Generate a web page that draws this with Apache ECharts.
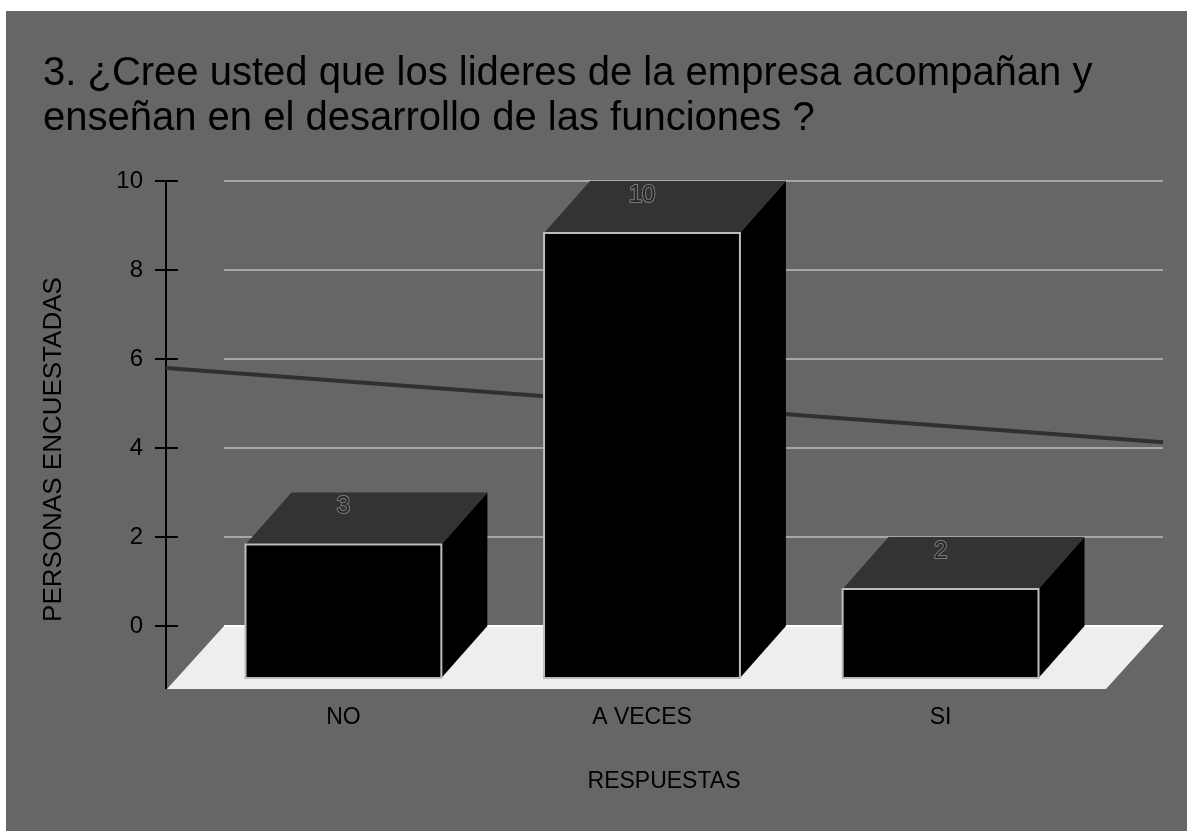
<!DOCTYPE html>
<html lang="es">
<head>
<meta charset="utf-8">
<title>Líderes de la empresa</title>
<script src="https://cdn.jsdelivr.net/npm/echarts@6.0.0/dist/echarts.min.js"></script>
<style>
  html, body { margin: 0; padding: 0; background: #ffffff; }
  #chart { position: absolute; left: 6px; top: 11px; width: 1181px; height: 820px; }
</style>
</head>
<body>
<div id="chart"></div>
<script>
// Survey answers
const CATEGORIES = ['NO', 'A VECES', 'SI'];
const VALUES = [3, 10, 2];
const Y_TICKS = [0, 2, 4, 6, 8, 10];

const TITLE = '3. ¿Cree usted que los lideres de la empresa acompañan y\nenseñan en el desarrollo de las funciones ?';
const X_NAME = 'RESPUESTAS';
const Y_NAME = 'PERSONAS ENCUESTADAS';

// Pseudo-3D geometry (pixels)
const DEPTH_X = 46;      // back face is shifted right of the front face
const DEPTH_Y = 52;      // and up
const FLOOR_DX = -57;    // floor front edge relative to the back wall
const FLOOR_DY = 63;
const BAR_RATIO = 0.656; // bar width as a share of category spacing
const AXIS_OFFSET = 58;  // value axis sits left of the back wall
const X_MIN = -0.4, X_MAX = 2.745;

const FONT = '"Liberation Sans", Arial, Helvetica, sans-serif';

// least-squares linear trend over the categories
function linearFit(ys) {
  const n = ys.length;
  const mx = (n - 1) / 2;
  const my = ys.reduce((a, b) => a + b, 0) / n;
  let sxy = 0, sxx = 0;
  ys.forEach((y, i) => { sxy += (i - mx) * (y - my); sxx += (i - mx) * (i - mx); });
  const slope = sxy / sxx;
  return { slope, intercept: my - slope * mx };
}

const chart = echarts.init(document.getElementById('chart'), null, { renderer: 'canvas' });

const fit = linearFit(VALUES);
const trendAt = i => fit.intercept + fit.slope * i;

const valueAxisBase = {
  type: 'value',
  min: Y_TICKS[0],
  max: Y_TICKS[Y_TICKS.length - 1],
  interval: Y_TICKS[1] - Y_TICKS[0],
  offset: AXIS_OFFSET,
  position: 'left'
};

const option = {
  backgroundColor: '#666666',
  animation: false,
  title: {
    text: TITLE,
    left: 37,
    top: 40,
    padding: 0,
    textStyle: { fontFamily: FONT, fontSize: 40, fontWeight: 'normal', color: '#000000', lineHeight: 45 }
  },
  grid: { left: 218, right: 24, top: 170, bottom: 205, containLabel: false },
  xAxis: {
    type: 'value',
    min: X_MIN,
    max: X_MAX,
    axisLine: { show: false, onZero: false },
    axisTick: { show: false },
    splitLine: { show: false },
    axisLabel: {
      customValues: CATEGORIES.map((c, i) => i),
      formatter: v => CATEGORIES[Math.round(v)] || '',
      margin: 80,
      fontFamily: FONT,
      fontSize: 23,
      color: '#000000'
    },
    name: X_NAME,
    nameLocation: 'middle',
    nameGap: 144,
    nameTextStyle: { fontFamily: FONT, fontSize: 23, color: '#000000', padding: [0, 59, 0, 0] }
  },
  yAxis: [
    Object.assign({}, valueAxisBase, {
      axisLine: { show: true, onZero: false, lineStyle: { color: '#000000', width: 2 } },
      axisTick: { show: true, length: 11, lineStyle: { color: '#000000', width: 2 } },
      axisLabel: { margin: 23, fontFamily: FONT, fontSize: 24, color: '#000000' },
      splitLine: { show: true, lineStyle: { color: '#a6a6a6', width: 2 } },
      name: Y_NAME,
      nameLocation: 'middle',
      nameRotate: 90,
      nameGap: 99,
      nameTextStyle: { fontFamily: FONT, fontSize: 26, color: '#000000', padding: [0, 92, 0, 0] }
    }),
    Object.assign({}, valueAxisBase, {
      axisLine: { show: false, onZero: false },
      axisTick: { show: true, inside: true, length: 12, lineStyle: { color: '#000000', width: 2 } },
      axisLabel: { show: false },
      splitLine: { show: false }
    })
  ],
  series: [
    {
      // floor plane and the axis running down to its front edge
      type: 'custom',
      z: 1,
      clip: false,
      silent: true,
      data: [[0, 0]],
      renderItem: (params, api) => {
        const cs = params.coordSys;
        const by = api.coord([0, 0])[1];
        const x0 = cs.x, x1 = cs.x + cs.width;
        return {
          type: 'group',
          children: [
            {
              type: 'polygon',
              shape: { points: [[x0, by], [x1, by], [x1 + FLOOR_DX, by + FLOOR_DY], [x0 + FLOOR_DX, by + FLOOR_DY]] },
              style: { fill: '#eeeeee' }
            },
            {
              type: 'line',
              shape: { x1: x0, y1: by, x2: x1, y2: by },
              style: { stroke: '#ffffff', lineWidth: 2 }
            },
            {
              type: 'line',
              shape: { x1: x0 - AXIS_OFFSET, y1: by, x2: x0 - AXIS_OFFSET, y2: by + FLOOR_DY },
              style: { stroke: '#000000', lineWidth: 2 }
            }
          ]
        };
      }
    },
    {
      // linear trend line, running from the value axis to the right edge of the wall
      type: 'custom',
      z: 2,
      clip: false,
      silent: true,
      data: [[0, trendAt(0)], [CATEGORIES.length - 1, trendAt(CATEGORIES.length - 1)]],
      renderItem: (params, api) => {
        if (params.dataIndex !== 0) return null;
        const cs = params.coordSys;
        const last = CATEGORIES.length - 1;
        const a = api.coord([0, trendAt(0)]);
        const b = api.coord([last, trendAt(last)]);
        const k = (b[1] - a[1]) / (b[0] - a[0]);
        const xs = cs.x - AXIS_OFFSET, xe = cs.x + cs.width;
        return {
          type: 'line',
          shape: { x1: xs, y1: a[1] + k * (xs - a[0]), x2: xe, y2: a[1] + k * (xe - a[0]) },
          style: { stroke: '#303030', lineWidth: 4 }
        };
      }
    },
    {
      // 3D bars
      type: 'custom',
      z: 3,
      clip: false,
      silent: true,
      data: VALUES.map((v, i) => [i, v]),
      renderItem: (params, api) => {
        const i = api.value(0), v = api.value(1);
        const top = api.coord([i, v]);
        const base = api.coord([i, 0]);
        const w = api.size([BAR_RATIO, 0])[0];
        const fl = top[0] - w / 2, fr = top[0] + w / 2;
        const ft = top[1] + DEPTH_Y, fb = base[1] + DEPTH_Y;
        return {
          type: 'group',
          children: [
            {
              type: 'polygon',
              shape: { points: [[fr, ft], [fr + DEPTH_X, ft - DEPTH_Y], [fr + DEPTH_X, fb - DEPTH_Y], [fr, fb]] },
              style: { fill: '#000000' }
            },
            {
              type: 'polygon',
              shape: { points: [[fl, ft], [fl + DEPTH_X, ft - DEPTH_Y], [fr + DEPTH_X, ft - DEPTH_Y], [fr, ft]] },
              style: { fill: '#333333' }
            },
            {
              type: 'rect',
              shape: { x: fl, y: ft, width: w, height: fb - ft },
              style: { fill: '#000000', stroke: '#bdbdbd', lineWidth: 2 }
            },
            {
              type: 'text',
              style: {
                text: String(v),
                x: top[0],
                y: top[1] + 14,
                align: 'center',
                verticalAlign: 'middle',
                font: '24px ' + FONT,
                fill: '#262626',
                stroke: '#7c7c7c',
                lineWidth: 2
              }
            }
          ]
        };
      }
    }
  ]
};

chart.setOption(option);
</script>
</body>
</html>
